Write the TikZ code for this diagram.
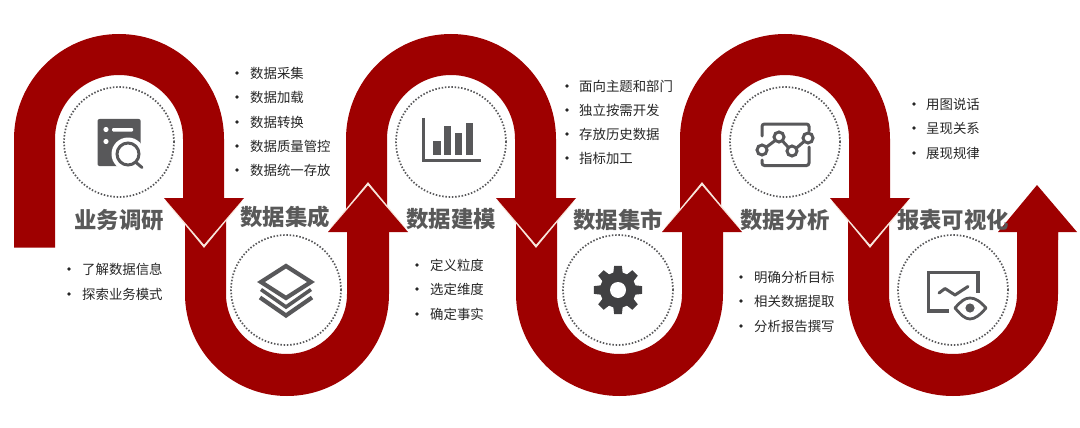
\documentclass[tikz,border=0pt]{standalone}
\usepackage{fontspec}
\setmainfont{Noto Sans CJK SC}
\definecolor{bandred}{HTML}{9E0000}
\definecolor{icongray}{HTML}{58585A}
\definecolor{geargray}{HTML}{404042}
\definecolor{headgray}{HTML}{595959}
\definecolor{itemgray}{HTML}{262626}
\definecolor{creamline}{HTML}{F8E6DC}
\tikzset{
  band/.style={fill=bandred,draw=none},
  vline/.style={draw=creamline,line width=2.4pt,line join=miter},
  dotring/.style={draw=icongray,line width=1.7pt,dash pattern=on 1.5pt off 1.75pt,fill=none,circle,minimum size=110pt,inner sep=0pt},
  heading/.style={font=\fontsize{22.4}{22.4}\selectfont\bfseries,text=headgray,anchor=center,inner sep=0pt},
  item/.style={font=\fontsize{13.4}{14}\selectfont,text=itemgray,anchor=west,inner sep=0pt},
  bulletdot/.style={fill=itemgray,draw=none,circle,minimum size=3.6pt,inner sep=0pt},
  iconline/.style={draw=icongray,line width=3pt,fill=none},
  iconfill/.style={fill=icongray,draw=none},
}
\newcommand{\archband}[4]{% outer-left, outer-right, inner-left, inner-right
  \pgfmathsetmacro{\ro}{(#2-#1)/2}\pgfmathsetmacro{\ri}{(#4-#3)/2}
  \fill[band] (#1,222) -- (#1,139) arc[start angle=180,end angle=360,radius=\ro] -- (#2,205) -- (#4,205) -- (#4,139) arc[start angle=360,end angle=180,radius=\ri] -- (#3,222) -- cycle;
}
\newcommand{\uband}[4]{%
  \pgfmathsetmacro{\ro}{(#2-#1)/2}\pgfmathsetmacro{\ri}{(#4-#3)/2}
  \fill[band] (#1,212) -- (#1,294) arc[start angle=180,end angle=0,x radius=\ro,y radius=102] -- (#2,225) -- (#4,225) -- (#4,294) arc[start angle=0,end angle=180,x radius=\ri,y radius=60] -- (#3,212) -- cycle;
}
\newcommand{\downhead}[1]{%
  \draw[vline] ({#1-37},201) -- (#1,246) -- ({#1+37},201);
  \fill[band] ({#1-40},198) -- ({#1+40},198) -- (#1,244.5) -- cycle;
}
\newcommand{\uphead}[1]{%
  \draw[vline] ({#1-37},229) -- (#1,184) -- ({#1+37},229);
  \fill[band] ({#1-40},232) -- ({#1+40},232) -- (#1,185.5) -- cycle;
}
\newcommand{\itemlist}[4]{% bullet x, text x, name, list y/text
  \foreach \yy/\tt [count=\ii] in {#4} {
    \node[bulletdot] (#3b\ii) at (#1,\yy) {};
    \node[item] (#3t\ii) at (#2,{\yy+0.6}) {\tt};
  }
}
\begin{document}
\begin{tikzpicture}[x=1pt,y=-1pt]
\useasboundingbox (0,0) rectangle (1080,428);
% arches
\fill[band] (14,247.5) -- (14,139) arc[start angle=180,end angle=360,radius=105] -- (224,205) -- (183,205) -- (183,139) arc[start angle=360,end angle=180,radius=64] -- (55,247.5) -- cycle;
\archband{346}{556}{387}{515}
\archband{680}{890}{721}{849}
% U bands
\uband{185}{389}{226}{347}
\uband{516}{723}{557}{682}
\uband{848}{1058}{889}{1017}
% arrow heads
\downhead{204}
\uphead{368}
\downhead{536}
\uphead{702}
\downhead{870}
\fill[band] (1017,240) -- (1017,232) -- (998,232) -- (1037,185) -- (1077,232) -- (1058,232) -- (1058,240) -- cycle;
% dotted rings
\node[dotring] (r1) at (119,142) {};
\node[dotring] (r2) at (286,290) {};
\node[dotring] (r3) at (451,142) {};
\node[dotring] (r4) at (618,290) {};
\node[dotring] (r5) at (785,142) {};
\node[dotring] (r6) at (953,290) {};
% icon 1
\fill[iconfill,rounded corners=2pt] (97.5,119) rectangle (140.7,166);
\fill[white] (106,129.5) circle (2.6);
\fill[white] (106,141.5) circle (2.6);
\fill[white,rounded corners=1pt] (112,128) rectangle (133,131.5);
\fill[white] (128,154) circle (16.5);
\draw[iconline] (128,154) circle (11);
\draw[iconline,line cap=round] (136,162.5) -- (142,167.5);
% icon 2
\draw[iconline,line width=4.2pt,line join=miter] (286,266) -- (311,282) -- (286,298) -- (261,282) -- cycle;
\draw[iconline,line width=3.6pt] (261,289.5) -- (286,307) -- (311,289.5);
\draw[iconline,line width=4.2pt] (260,297.5) -- (286,315.5) -- (312,297.5);
% icon 3
\draw[iconline,line width=3.6pt] (423.5,118) -- (423.5,160.5) -- (481,160.5);
\fill[iconfill] (432.5,141) rectangle (440.5,155);
\fill[iconfill] (444,125.5) rectangle (451,155);
\fill[iconfill] (455,133) rectangle (462.3,155);
\fill[iconfill] (466,122.5) rectangle (473.3,155);
% gear
\begin{scope}[shift={(618,290)}]
\fill[geargray] (-15:18)
  \foreach \a in {0,45,...,315} { -- (\a-15:18) -- (\a-9:24.5) -- (\a+9:24.5) -- (\a+15:18) } -- cycle;
\fill[white] (0,0) circle (8);
\end{scope}
% icon 4
\draw[iconline,line cap=round,rounded corners=2.5pt] (762,136) -- (762,124) -- (809,124) -- (809,131);
\draw[iconline,line cap=round,rounded corners=2.5pt] (809,147) -- (809,165.5) -- (762,165.5) -- (762,160);
\draw[iconline] (762,150) circle (5);
\draw[iconline] (779,137) circle (5);
\draw[iconline] (792,151) circle (5);
\draw[iconline] (808,138) circle (5);
\draw[iconline] (766.5,147) -- (774.5,141);
\draw[iconline] (782.5,141) -- (788,147);
\draw[iconline] (796.5,148) -- (803.5,142);
% icon 5
\draw[iconline,line width=3.6pt] (949,311) -- (928.5,311) -- (928.5,272.5) -- (978,272.5) -- (978,293);
\draw[iconline,line join=round,line cap=round] (939,293) -- (945,288.5) -- (955,295) -- (968,286.5);
\draw[iconline,line width=2.8pt,line join=round] (955,308) .. controls (961,301) and (965,298) .. (970,298) .. controls (975,298) and (980,301) .. (986,308) .. controls (980,315) and (975,319) .. (970,319) .. controls (965,319) and (961,315) .. (955,308) -- cycle;
\fill[iconfill] (970,308) circle (4.6);
% headings
\node[heading] (h1) at (119,220) {业务调研};
\node[heading] (h2) at (285,216.5) {数据集成};
\node[heading] (h3) at (451,219) {数据建模};
\node[heading] (h4) at (618,219.5) {数据集市};
\node[heading] (h5) at (785,220) {数据分析};
\node[heading] (h6) at (953,220) {报表可视化};
% lists
\itemlist{237}{250}{la}{73/数据采集,97/数据加载,122/数据转换,146/数据质量管控,170/数据统一存放}
\itemlist{69}{82}{lb}{269/了解数据信息,294/探索业务模式}
\itemlist{417}{430}{lc}{265/定义粒度,289/选定维度,314/确定事实}
\itemlist{567}{579}{ld}{86/面向主题和部门,110/独立按需开发,134/存放历史数据,158/指标加工}
\itemlist{741}{754}{le}{277/明确分析目标,301/相关数据提取,326/分析报告撰写}
\itemlist{914}{926}{lf}{104/用图说话,128/呈现关系,153/展现规律}
\end{tikzpicture}
\end{document}
